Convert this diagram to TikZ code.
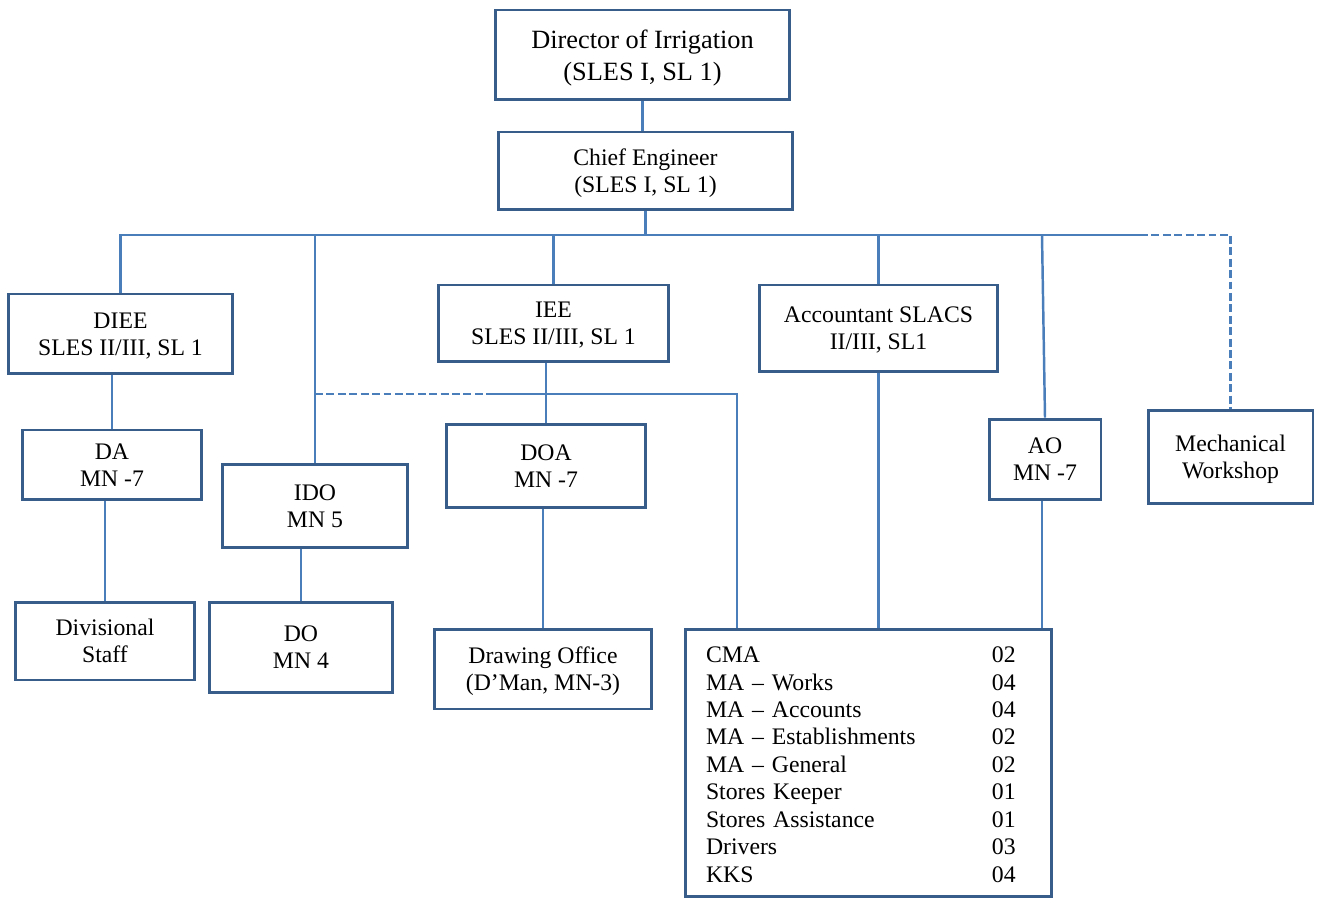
\documentclass[tikz,border=0pt]{standalone}
\usepackage{fontspec}
\setmainfont{Liberation Serif}
\usetikzlibrary{positioning,calc}
\definecolor{boxblue}{RGB}{56,93,138}
\definecolor{lineblue}{RGB}{74,126,187}
\tikzstyle{post} = [rectangle, draw=boxblue, line width=1.7pt, fill=white, align=center, inner sep=0pt, text depth=0pt, font=\fontsize{13.5}{15.5}\selectfont]
\tikzstyle{listbox} = [rectangle, draw=boxblue, line width=1.7pt, fill=white, inner sep=0pt]
\tikzstyle{link} = [draw=lineblue, line width=1.4pt]
\tikzstyle{dashlink} = [link, dash pattern=on 4.5pt off 2pt]
\tikzstyle{thinlink} = [draw=lineblue, line width=0.7pt]

\begin{document}
\begin{tikzpicture}[x=0.02cm, y=-0.02cm]
    \useasboundingbox (0,0) rectangle (1319,898);

    % Top
    \node[post, minimum width=5.9cm, minimum height=1.8cm, font=\fontsize{15}{18}\selectfont] (dir) at (642.5,55) {Director of Irrigation\\(SLES I, SL 1)};
    \node[post, minimum width=5.9cm, minimum height=1.56cm] (ce) at (645.5,171) {Chief Engineer\\(SLES I, SL 1)};

    % Second row
    \node[post, minimum width=4.5cm, minimum height=1.6cm] (diee) at (120.5,334) {DIEE\\SLES II/III, SL 1};
    \node[post, minimum width=4.62cm, minimum height=1.54cm] (iee) at (553.5,323.5) {IEE\\SLES II/III, SL 1};
    \node[post, minimum width=4.78cm, minimum height=1.74cm] (acct) at (878.5,328.5) {Accountant SLACS\\II/III, SL1};
    \node[post, minimum width=2.24cm, minimum height=1.62cm] (ao) at (1045,459.5) {AO\\MN -7};
    \node[post, minimum width=3.3cm, minimum height=1.88cm] (mech) at (1230.5,457) {Mechanical\\Workshop};

    % Third row
    \node[post, minimum width=3.6cm, minimum height=1.4cm] (da) at (112,465) {DA\\MN -7};
    \node[post, minimum width=3.72cm, minimum height=1.68cm] (ido) at (315,506) {IDO\\MN 5};
    \node[post, minimum width=4cm, minimum height=1.68cm] (doa) at (546,466) {DOA\\MN -7};

    % Bottom
    \node[post, minimum width=3.6cm, minimum height=1.56cm] (divstaff) at (105,641) {Divisional\\Staff};
    \node[post, minimum width=3.68cm, minimum height=1.82cm] (do) at (301,647.5) {DO\\MN 4};
    \node[post, minimum width=4.36cm, minimum height=1.6cm] (dwg) at (543,669) {Drawing Office\\(D'Man, MN-3)};
    \node[listbox, minimum height=5.36cm, text width=6.5cm, inner xsep=0.42cm, align=left, font=\fontsize{13.5}{15.65}\selectfont] (staff) at (868.5,763) {%
        \begin{tabular}{@{}p{5.72cm}@{}l@{}}
        \rule{0pt}{15.5pt}CMA & 02\\
        MA -- Works & 04\\
        MA -- Accounts & 04\\
        MA -- Establishments & 02\\
        MA -- General & 02\\
        Stores Keeper & 01\\
        Stores Assistance & 01\\
        Drivers & 03\\
        KKS & 04
        \end{tabular}};

    % Bus
    \coordinate (busR) at (1140,235);
    \coordinate (midjn) at (490,394);
    \coordinate (jn) at (737,394);

    % Lines
    \draw[link] (dir.south) -- (dir.south |- ce.north);
    \draw[link] (ce.south) -- (ce.south |- busR);
    \draw[link] (diee.north) |- (busR);
    \draw[dashlink] (busR) -| (mech.north);
    \draw[link] (ido.north) -- (ido.north |- busR);
    \draw[link] (iee.north) -- (iee.north |- busR);
    \draw[link] (acct.north) -- (acct.north |- busR);
    \draw[link] (ao.north) -- ($(ao.north |- busR)+(-3,0)$);
    \draw[link] (da.north) -- (da.north |- diee.south);
    \draw[link] (divstaff.north) -- (divstaff.north |- da.south);
    \draw[link] (do.north) -- (do.north |- ido.south);
    \draw[link] (doa.north) -- (doa.north |- iee.south);
    \draw[link] (dwg.north) -- (dwg.north |- doa.south);
    \draw[dashlink] (ido.north |- midjn) -- (midjn);
    \draw[thinlink] (midjn) -- (jn) -- (jn |- staff.north);
    \draw[link] (acct.south) -- (acct.south |- staff.north);
    \draw[link] ($(ao.south)+(-3,0)$) -- ($(ao.south |- staff.north)+(-3,0)$);
\end{tikzpicture}
\end{document}
